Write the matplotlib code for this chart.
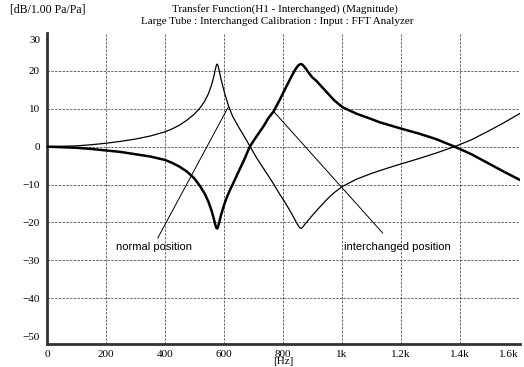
import matplotlib
matplotlib.use("Agg")
import matplotlib.pyplot as plt

# ---- data ----
freq_normal = [0, 100, 150, 200, 250, 300, 350, 400, 425, 450, 475, 500, 520, 535,
               548, 558, 566, 571, 575, 578, 581, 585, 590, 597, 605, 617, 630,
               650, 670, 688, 710, 735, 766, 790, 810, 828, 842, 852, 858, 863,
               868, 875, 888, 902, 925, 949, 975, 1003, 1050, 1100, 1150, 1200,
               1264, 1320, 1383, 1440, 1500, 1550, 1610]
normal_db = [0, 0.2, 0.5, 0.9, 1.4, 2.0, 2.8, 3.9, 4.7, 5.7, 7.0, 8.6, 10.3, 12.0,
             14.0, 16.2, 18.5, 20.3, 21.6, 21.8, 21.2, 19.8, 18.0, 15.8, 13.5,
             10.5, 8.0, 5.2, 2.6, 0.2, -2.8, -5.8, -9.5, -12.6, -15.0, -17.4,
             -19.4, -20.8, -21.4, -21.6, -21.2, -20.5, -19.3, -18.0, -16.0,
             -14.0, -12.1, -10.5, -8.6, -7.1, -5.8, -4.6, -3.1, -1.7, 0.0, 1.8,
             4.2, 6.3, 9.0]

freq_inter = [0, 100, 150, 200, 250, 300, 350, 400, 425, 450, 475, 500, 520, 535,
              548, 558, 566, 571, 575, 578, 581, 585, 590, 600, 610, 620, 631,
              650, 670, 688, 710, 735, 750, 769, 790, 813, 830, 842, 852, 860,
              866, 872, 880, 890, 900, 915, 930, 950, 975, 1003, 1050, 1100,
              1130, 1200, 1264, 1320, 1383, 1440, 1500, 1550, 1610]
interchanged_db = [0, -0.3, -0.6, -1.0, -1.4, -2.0, -2.6, -3.5, -4.3, -5.3, -6.6,
                   -8.4, -10.5, -12.4, -14.6, -16.8, -19.0, -20.6, -21.5, -21.6,
                   -21.0, -19.8, -18.2, -15.6, -13.4, -11.6, -9.8, -6.6, -3.3,
                   0.0, 2.6, 5.4, 7.4, 9.3, 12.4, 16.0, 18.6, 20.3, 21.4, 21.8,
                   21.7, 21.2, 20.4, 19.3, 18.3, 17.3, 16.0, 14.3, 12.2, 10.4,
                   8.7, 7.3, 6.4, 4.8, 3.4, 2.0, 0.0, -2.0, -4.5, -6.6, -9.0]

xticks = [0, 200, 400, 600, 800, 1000, 1200, 1400, 1600]
xtick_labels = ["0", "200", "400", "600", "800", "1k", "1.2k", "1.4k", "1.6k"]
yticks = [-50, -40, -30, -20, -10, 0, 10, 20]
ytick_labels = ["\u221250", "\u221240", "\u221230", "\u221220", "\u221210", "0", "10", "20"]

title1 = "Transfer Function(H1 - Interchanged) (Magnitude)"
title2 = "Large Tube : Interchanged Calibration : Input : FFT Analyzer"
unit_label = "[dB/1.00 Pa/Pa]"

# annotation anchors (freq, dB)
normal_line = ([376, 614], [-24.1, 10.3])
normal_text = (363, -26.4)
inter_line = ([1139, 769], [-22.8, 9.3])
inter_text = (1190, -26.4)

serif = ["Liberation Serif", "DejaVu Serif"]
sans = ["Liberation Sans", "DejaVu Sans"]

fig = plt.figure(figsize=(5.24, 3.67), dpi=100)
ax = fig.add_axes([47 / 524, 1 - 344 / 367, (520 - 47) / 524, (344 - 33) / 367])

ax.set_xlim(0, 1605)
ax.set_ylim(-52.1, 30)

grid_kw = dict(color="#555555", lw=0.6, ls=(0, (3, 1.5)), zorder=1)
for x in xticks[1:-1]:
    ax.axvline(x, **grid_kw)
for y in yticks[1:]:
    ax.axhline(y, **grid_kw)

ax.plot(freq_normal, normal_db, color="black", lw=0.9, zorder=3)
ax.plot(freq_inter, interchanged_db, color="black", lw=1.8, zorder=3)

ax.plot(*normal_line, color="black", lw=0.7, zorder=3)
ax.plot(*inter_line, color="black", lw=0.7, zorder=3)
ax.text(*normal_text, "normal position", family=sans, fontsize=8,
        ha="center", va="center")
ax.text(*inter_text, "interchanged position", family=sans, fontsize=8,
        ha="center", va="center")

for s in ["top", "right"]:
    ax.spines[s].set_visible(False)
for s in ["left", "bottom"]:
    ax.spines[s].set_linewidth(2)
    ax.spines[s].set_color("#333333")

ax.set_xticks(xticks)
ax.set_xticklabels(xtick_labels, family=serif, fontsize=8)
ax.get_xticklabels()[-1].set_horizontalalignment("right")
ax.set_yticks(yticks)
ax.set_yticklabels(ytick_labels, family=serif, fontsize=8)
ax.tick_params(length=0, pad=4)
ax.tick_params(axis="y", pad=5)
ax.text(-0.014, 28.0, "30", transform=ax.get_yaxis_transform(), family=serif,
        fontsize=8, ha="right", va="center")

ax.set_xlabel("[Hz]", family=serif, fontsize=8, labelpad=-1)

fig.text(10 / 524, 1 - 9 / 367, unit_label, family=serif, fontsize=8.5,
         ha="left", va="center")
fig.text(285 / 524, 1 - 9 / 367, title1, family=serif, fontsize=8,
         ha="center", va="center")
fig.text(277 / 524, 1 - 22 / 367, title2, family=serif, fontsize=8,
         ha="center", va="center")

fig.savefig("out.png", dpi=100)
